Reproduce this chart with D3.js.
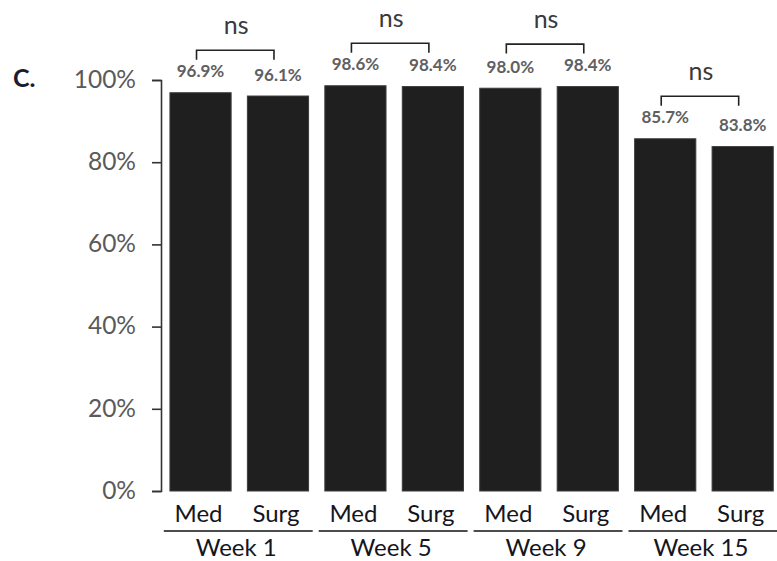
<!DOCTYPE html>
<html>
<head>
<meta charset="utf-8">
<script src="https://cdn.jsdelivr.net/npm/d3@7"></script>
<style>
  html, body { margin: 0; padding: 0; background: #ffffff; }
  svg { display: block; font-family: Lato, "Open Sans", sans-serif; }
</style>
</head>
<body>
<svg id="chart" width="777" height="561"></svg>
<script>
// Adherence by week and treatment arm
const weeks = ["Week 1", "Week 5", "Week 9", "Week 15"];
const arms = ["Med", "Surg"];
const medValues = [96.9, 98.6, 98.0, 85.7];
const surgValues = [96.1, 98.4, 98.4, 83.8];
const sigLabels = ["ns", "ns", "ns", "ns"];
const yTickValues = [0, 20, 40, 60, 80, 100];
const panelLabel = "C.";

const rows = weeks.map((w, i) => ({
  week: w,
  sig: sigLabels[i],
  bars: [
    { arm: arms[0], value: medValues[i] },
    { arm: arms[1], value: surgValues[i] }
  ]
}));

const svg = d3.select("#chart");

const y = d3.scaleLinear().domain([0, 100]).range([491, 80]);
const x0 = d3.scaleBand().domain(weeks).range([161.8, 781.4]).paddingInner(0).paddingOuter(0);
const x1 = d3.scaleBand().domain(arms).range([0, x0.bandwidth()]).paddingInner(0.21).paddingOuter(0.105);

// Panel letter
svg.append("text")
  .attr("x", 13).attr("y", 87)
  .attr("font-size", 25)
  .attr("font-weight", 700)
  .attr("fill", "#1c1c30")
  .text(panelLabel);

// Y axis
const yAxis = d3.axisLeft(y)
  .tickValues(yTickValues)
  .tickSize(9)
  .tickPadding(16)
  .tickFormat(d => d + "%");

const gy = svg.append("g")
  .attr("transform", "translate(161,0)")
  .call(yAxis);
gy.select(".domain").attr("stroke", "#333").attr("stroke-width", 1.6);
gy.selectAll(".tick line").attr("stroke", "#333").attr("stroke-width", 1.6);
gy.selectAll(".tick text")
  .attr("font-size", 24.5)
  .attr("font-family", "Lato, sans-serif")
  .attr("fill", "#5a5a5a")
  .attr("dy", "0.3em");

// Bars, grouped by week
const groups = svg.append("g").selectAll("g.week")
  .data(rows)
  .join("g")
  .attr("class", "week")
  .attr("transform", d => `translate(${x0(d.week)},0)`);

groups.selectAll("rect")
  .data(d => d.bars)
  .join("rect")
  .attr("x", d => x1(d.arm))
  .attr("width", x1.bandwidth())
  .attr("y", d => y(d.value))
  .attr("height", d => y(0) - y(d.value))
  .attr("fill", "#1f1f1f")
  .attr("stroke", "#3c3c3c")
  .attr("stroke-width", 1);

// Value labels above bars
groups.selectAll("text.val")
  .data(d => d.bars)
  .join("text")
  .attr("class", "val")
  .attr("x", d => x1(d.arm) + x1.bandwidth() / 2)
  .attr("y", d => y(d.value) - 15.5)
  .attr("text-anchor", "middle")
  .attr("font-size", 17)
  .attr("font-weight", 700)
  .attr("fill", "#606060")
  .text(d => d.value.toFixed(1) + "%");

// Significance brackets
const bracketRise = 42.5;
const bracketDrop = 9.5;
groups.append("path")
  .attr("fill", "none")
  .attr("stroke", "#222")
  .attr("stroke-width", 1.6)
  .attr("d", d => {
    const top = y(d3.max(d.bars, b => b.value)) - bracketRise;
    const xa = x1(arms[0]) + x1.bandwidth() / 2 - 4;
    const xb = x1(arms[1]) + x1.bandwidth() / 2 - 4;
    return `M${xa},${top + bracketDrop}V${top}H${xb}V${top + bracketDrop}`;
  });

groups.append("text")
  .attr("x", x1(arms[0]) + x1.bandwidth() / 2 + x1.step() / 2 - 3)
  .attr("y", d => y(d3.max(d.bars, b => b.value)) - bracketRise - 16)
  .attr("text-anchor", "middle")
  .attr("font-size", 25)
  .attr("fill", "#3a3a3a")
  .text(d => d.sig);

// Arm labels under bars
groups.selectAll("text.arm")
  .data(d => d.bars)
  .join("text")
  .attr("class", "arm")
  .attr("x", d => x1(d.arm) + x1.bandwidth() / 2 - 2)
  .attr("y", 522)
  .attr("text-anchor", "middle")
  .attr("font-size", 24)
  .attr("fill", "#151520")
  .text(d => d.arm);

// Week underline and label
groups.append("line")
  .attr("x1", 2)
  .attr("x2", x0.bandwidth() - 4)
  .attr("y1", 531).attr("y2", 531)
  .attr("stroke", "#111")
  .attr("stroke-width", 1.6);

groups.append("text")
  .attr("x", x0.bandwidth() / 2 - 3)
  .attr("y", 556)
  .attr("text-anchor", "middle")
  .attr("font-size", 24)
  .attr("fill", "#151520")
  .text(d => d.week);
</script>
</body>
</html>
